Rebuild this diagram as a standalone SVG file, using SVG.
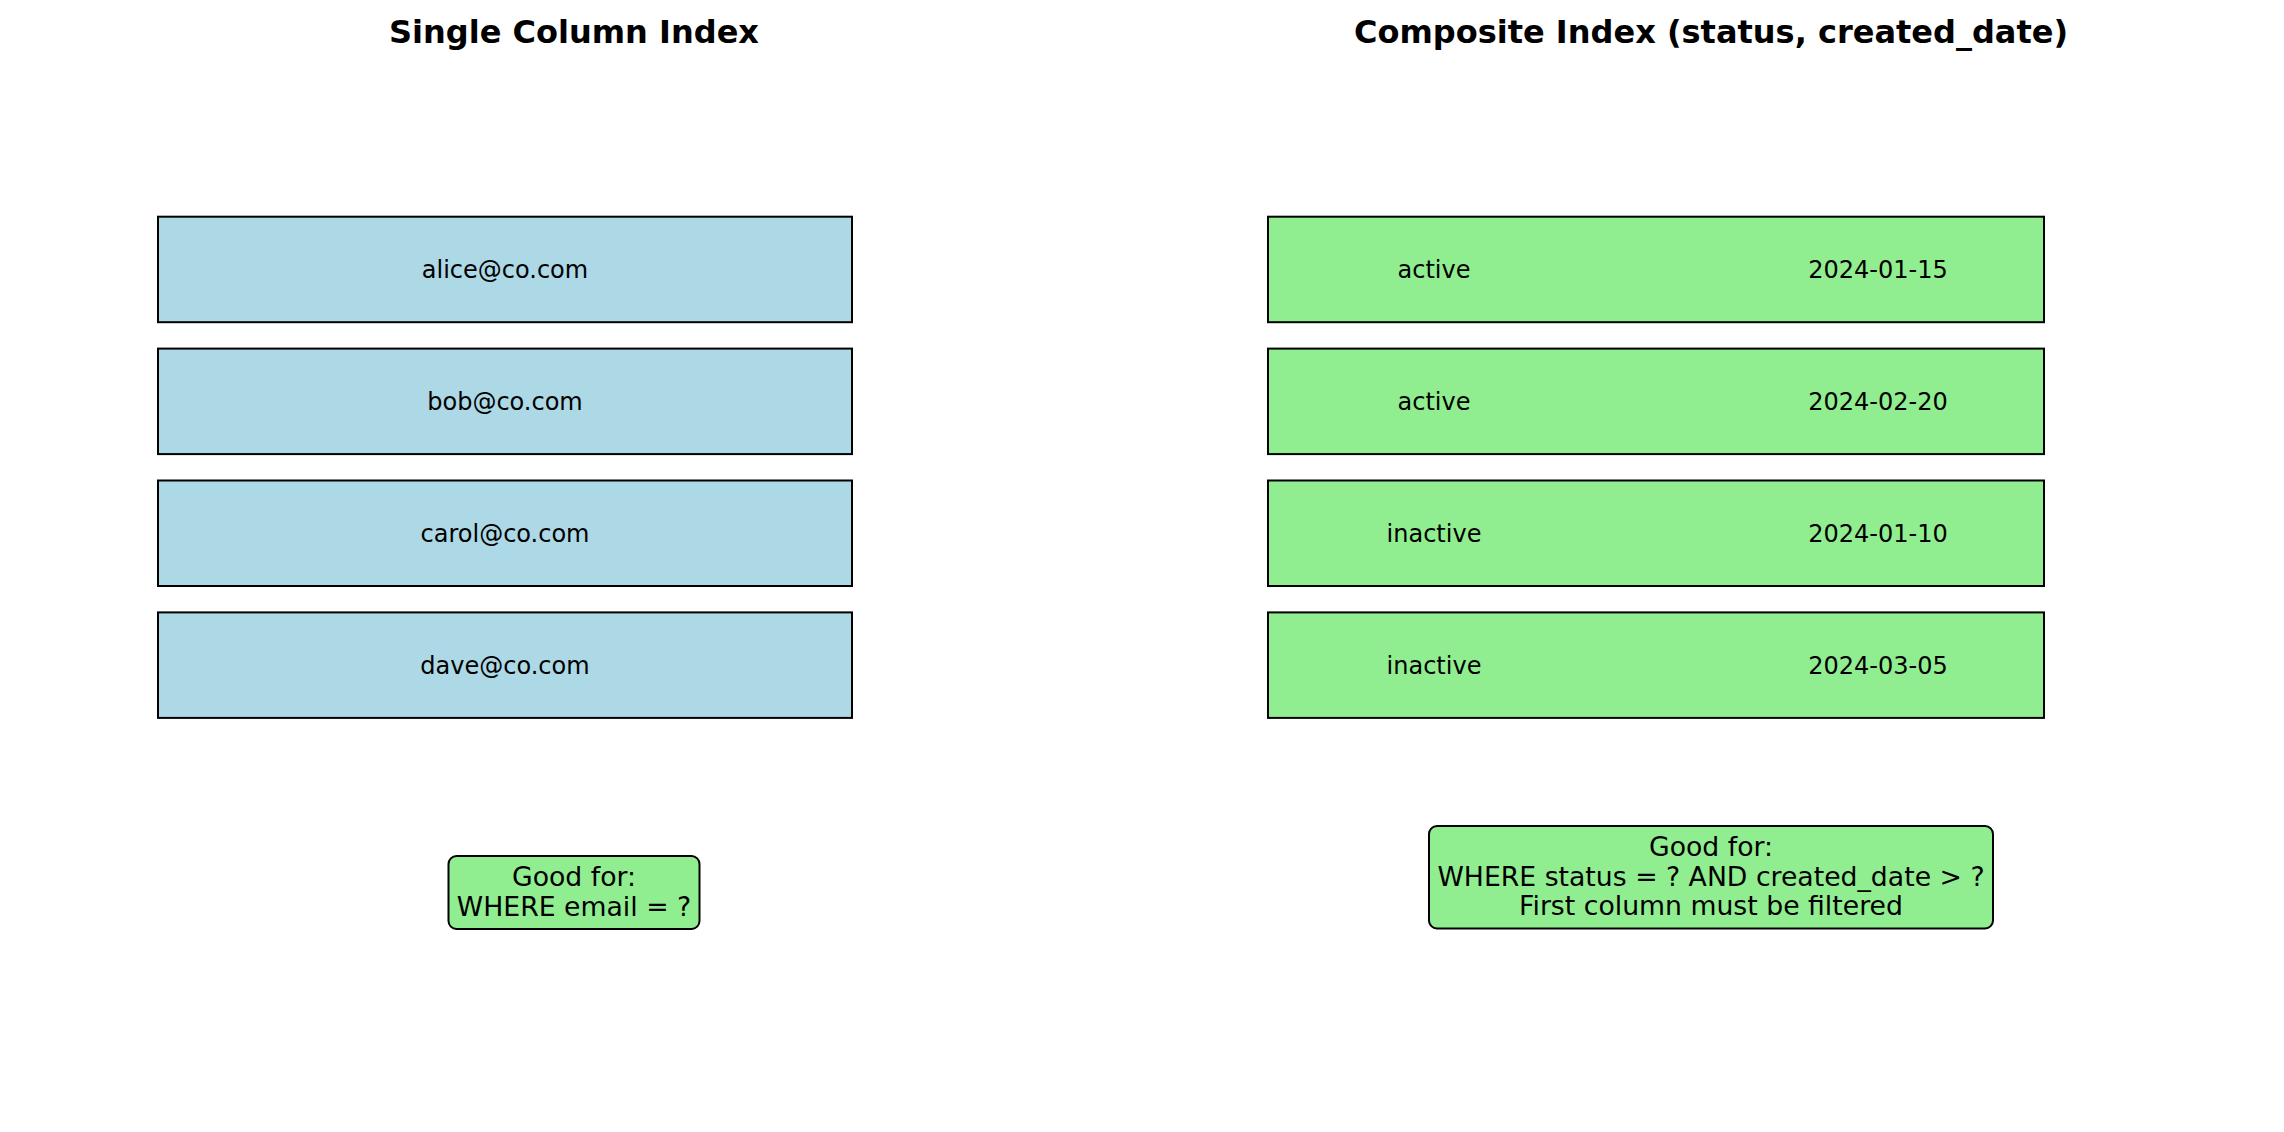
<svg xmlns="http://www.w3.org/2000/svg" width="2284" height="1132" viewBox="0 0 2284 1132">
<style>
text { font-family: "DejaVu Sans", "Liberation Sans", sans-serif; fill: #000; text-anchor: middle; }
.title { font-size: 32px; font-weight: bold; }
.cell { font-size: 24px; }
.note { font-size: 26.7px; }
.blue { fill: #ADD8E6; stroke: #000; stroke-width: 2; }
.green { fill: #90EE90; stroke: #000; stroke-width: 2; }
</style>
<rect x="0" y="0" width="2284" height="1132" fill="#fff"/>
<text class="title" x="574" y="43">Single Column Index</text>
<text class="title" x="1711" y="43">Composite Index (status, created_date)</text>
<g id="connectors"></g>
<g id="single-1"><rect class="blue" x="158" y="216.7" width="694" height="105.5"/><text class="cell" x="505" y="277.5">alice@co.com</text></g>
<g id="single-2"><rect class="blue" x="158" y="348.6" width="694" height="105.5"/><text class="cell" x="505" y="409.5">bob@co.com</text></g>
<g id="single-3"><rect class="blue" x="158" y="480.5" width="694" height="105.5"/><text class="cell" x="505" y="541.5">carol@co.com</text></g>
<g id="single-4"><rect class="blue" x="158" y="612.4" width="694" height="105.5"/><text class="cell" x="505" y="673.5">dave@co.com</text></g>
<g id="comp-1"><rect class="green" x="1268" y="216.7" width="776" height="105.5"/><text class="cell" x="1434" y="277.5">active</text><text class="cell" x="1878" y="277.5">2024-01-15</text></g>
<g id="comp-2"><rect class="green" x="1268" y="348.6" width="776" height="105.5"/><text class="cell" x="1434" y="409.5">active</text><text class="cell" x="1878" y="409.5">2024-02-20</text></g>
<g id="comp-3"><rect class="green" x="1268" y="480.5" width="776" height="105.5"/><text class="cell" x="1434" y="541.5">inactive</text><text class="cell" x="1878" y="541.5">2024-01-10</text></g>
<g id="comp-4"><rect class="green" x="1268" y="612.4" width="776" height="105.5"/><text class="cell" x="1434" y="673.5">inactive</text><text class="cell" x="1878" y="673.5">2024-03-05</text></g>
<g id="note-single"><rect class="green" x="448.5" y="856" width="251" height="73" rx="8" ry="8"/><text class="note" x="574" y="885.7">Good for:</text><text class="note" x="574" y="915.7">WHERE email = ?</text></g>
<g id="note-composite"><rect class="green" x="1429" y="826" width="564" height="102.5" rx="8" ry="8"/><text class="note" x="1711" y="856">Good for:</text><text class="note" x="1711" y="885.5">WHERE status = ? AND created_date &gt; ?</text><text class="note" x="1711" y="915">First column must be filtered</text></g>
</svg>
